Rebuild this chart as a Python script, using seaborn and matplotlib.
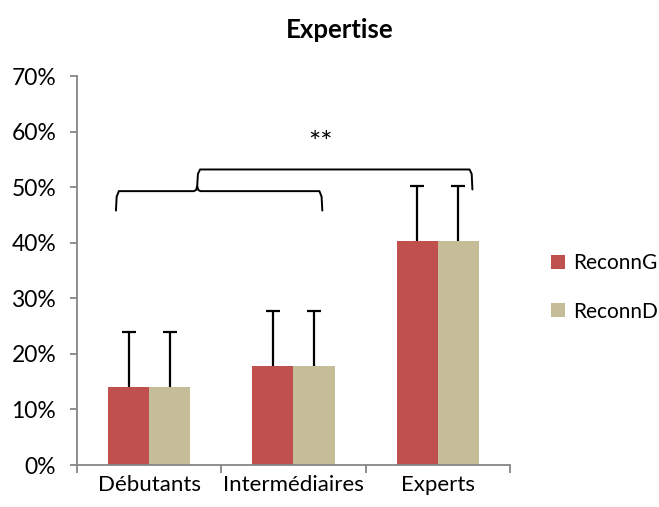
import pandas as pd
import numpy as np
import matplotlib
matplotlib.use('Agg')
import matplotlib.pyplot as plt
from matplotlib.ticker import PercentFormatter, FixedLocator
import seaborn as sns

# Data
categories = ['Débutants', 'Intermédiaires', 'Experts']
series = ['ReconnG', 'ReconnD']
reconn_g = [14.0, 17.8, 40.3]
reconn_d = [14.0, 17.8, 40.3]
err_g = [10.0, 10.0, 10.0]
err_d = [10.0, 10.0, 10.0]
colors = ['#C0504D', '#C4BD97']

df = pd.DataFrame({
    'cat': categories * 2,
    'serie': [series[0]] * 3 + [series[1]] * 3,
    'val': reconn_g + reconn_d,
    'err': err_g + err_d,
})

sns.set_style('white')
plt.rcParams['font.family'] = ['Lato', 'DejaVu Sans']
plt.rcParams['text.color'] = 'black'
plt.rcParams['xtick.color'] = 'black'
plt.rcParams['ytick.color'] = 'black'

fig = plt.figure(figsize=(6.59, 5.07), dpi=100)
ax = fig.add_axes([0.1168, 0.0828, 0.657, 0.767])

sns.barplot(data=df, x='cat', y='val', hue='serie', palette=colors,
            width=0.57, errorbar=None, saturation=1, linewidth=0, ax=ax)

# upward-only error bars on each bar
for patch, (_, row) in zip(ax.patches, df.iterrows()):
    xc = patch.get_x() + patch.get_width() / 2
    _, caps, _ = ax.errorbar(xc, patch.get_height(), yerr=[[0], [row['err']]], fmt='none',
                             ecolor='black', elinewidth=1.6, capsize=5, capthick=1.6, zorder=3)
    caps[0].set_visible(False)

ax.set_ylim(0, 70)
ax.set_xlim(-0.5, 2.5)
ax.yaxis.set_major_locator(FixedLocator(np.arange(0, 71, 10)))
ax.yaxis.set_major_formatter(PercentFormatter(decimals=0))
ax.set_xlabel('')
ax.set_ylabel('')

for s in ['top', 'right']:
    ax.spines[s].set_visible(False)
for s in ['left', 'bottom']:
    ax.spines[s].set_color('#868686')
    ax.spines[s].set_linewidth(1.3)

ax.tick_params(axis='y', which='major', length=5, width=1.3, color='#868686',
               labelcolor='black', labelsize=16.5, pad=10, left=True)
ax.tick_params(axis='x', which='major', length=0, labelsize=16, labelcolor='black', pad=7)
ax.xaxis.set_minor_locator(FixedLocator([-0.5, 0.5, 1.5, 2.5]))
ax.tick_params(axis='x', which='minor', length=6, width=1.3, color='#868686', bottom=True)

# significance brackets
kw = dict(color='black', lw=1.4, clip_on=False, solid_joinstyle='round')
ax.plot([-0.23, -0.225, -0.21, 0.31, 0.325, 0.333, 0.341, 0.356, 1.18, 1.195, 1.20],
        [45.8, 48.3, 49.3, 49.3, 49.5, 50.2, 49.5, 49.3, 49.3, 48.3, 45.8], **kw)
ax.plot([0.333, 0.338, 0.353, 2.22, 2.235, 2.24],
        [50.2, 52.4, 53.2, 53.2, 52.4, 49.6], **kw)
ax.text(1.19, 57.8, '**', ha='center', va='center', fontsize=21)

leg = ax.legend(loc='center left', bbox_to_anchor=(551 / 659, 1 - 287.5 / 507),
                bbox_transform=fig.transFigure, frameon=False, fontsize=15,
                handlelength=0.68, handleheight=0.68, handletextpad=0.4,
                labelspacing=1.35, borderpad=0, borderaxespad=0)

fig.text(0.516, 1 - 30 / 507, 'Expertise', ha='center', va='center',
         fontsize=18.5, fontweight='bold')

fig.savefig('out.png', dpi=100)
